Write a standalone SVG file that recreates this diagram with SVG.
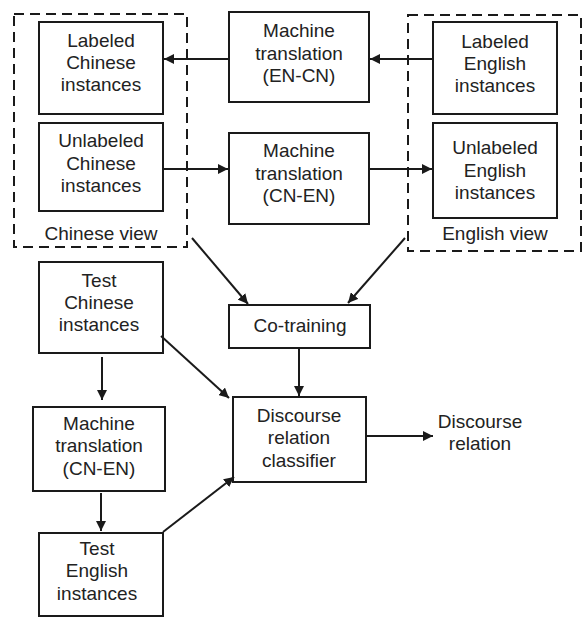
<svg xmlns="http://www.w3.org/2000/svg" width="582" height="617" viewBox="0 0 582 617">
<defs>
<marker id="ah" viewBox="0 0 10 10" refX="10" refY="5" markerWidth="10" markerHeight="10" markerUnits="userSpaceOnUse" orient="auto">
<path d="M0,0 L10,5 L0,10 z" fill="#1a1a1a"/>
</marker>
<style>
.box{fill:#fff;stroke:#1a1a1a;stroke-width:2}
.dash{fill:none;stroke:#1a1a1a;stroke-width:2;stroke-dasharray:10 6}
text{font-family:"Liberation Sans",Arial,sans-serif;font-size:19px;fill:#222;text-anchor:middle}
.c line{stroke:#1a1a1a;stroke-width:2;marker-end:url(#ah)}
</style>
</defs>
<rect width="582" height="617" fill="#fff"/>
<g id="chinese-view">
<rect class="dash" x="14" y="14" width="173" height="233"/>
<text x="101" y="240">Chinese view</text>
</g>
<g id="english-view">
<rect class="dash" x="408" y="15" width="173" height="236"/>
<text x="495" y="240">English view</text>
</g>
<g id="labeled-chinese">
<rect class="box" x="39" y="22" width="124" height="92"/>
<text x="101" y="47">Labeled</text><text x="101" y="69">Chinese</text><text x="101" y="91">instances</text>
</g>
<g id="unlabeled-chinese">
<rect class="box" x="39" y="123" width="124" height="88"/>
<text x="101" y="147">Unlabeled</text><text x="101" y="170">Chinese</text><text x="101" y="192">instances</text>
</g>
<g id="mt-en-cn">
<rect class="box" x="229" y="12" width="140" height="90"/>
<text x="299" y="37">Machine</text><text x="299" y="60">translation</text><text x="299" y="82">(EN-CN)</text>
</g>
<g id="mt-cn-en-top">
<rect class="box" x="229" y="133" width="140" height="91"/>
<text x="299" y="157">Machine</text><text x="299" y="180">translation</text><text x="299" y="202">(CN-EN)</text>
</g>
<g id="labeled-english">
<rect class="box" x="433" y="22" width="124" height="92"/>
<text x="495" y="48">Labeled</text><text x="495" y="70">English</text><text x="495" y="92">instances</text>
</g>
<g id="unlabeled-english">
<rect class="box" x="433" y="123" width="124" height="95"/>
<text x="495" y="154">Unlabeled</text><text x="495" y="177">English</text><text x="495" y="199">instances</text>
</g>
<g id="co-training">
<rect class="box" x="229" y="305" width="141" height="43"/>
<text x="300" y="332">Co-training</text>
</g>
<g id="classifier">
<rect class="box" x="233" y="397" width="133" height="85"/>
<text x="299" y="422">Discourse</text><text x="299" y="444">relation</text><text x="299" y="467">classifier</text>
</g>
<g id="discourse-relation">
<text x="480" y="428">Discourse</text><text x="480" y="450">relation</text>
</g>
<g id="test-chinese">
<rect class="box" x="39" y="262" width="124" height="91"/>
<text x="99" y="287">Test</text><text x="99" y="309">Chinese</text><text x="99" y="331">instances</text>
</g>
<g id="mt-cn-en-bottom">
<rect class="box" x="33" y="407" width="132" height="84"/>
<text x="99" y="430">Machine</text><text x="99" y="452">translation</text><text x="99" y="475">(CN-EN)</text>
</g>
<g id="test-english">
<rect class="box" x="39" y="533" width="124" height="83"/>
<text x="97" y="555">Test</text><text x="97" y="577">English</text><text x="97" y="600">instances</text>
</g>
<g id="connectors" class="c">
<line x1="229" y1="59" x2="164" y2="59"/>
<line x1="433" y1="59" x2="370" y2="59"/>
<line x1="163" y1="169" x2="228" y2="169"/>
<line x1="369" y1="169" x2="432" y2="169"/>
<line x1="192" y1="238" x2="248" y2="304"/>
<line x1="405" y1="238" x2="348" y2="303"/>
<line x1="299" y1="348" x2="299" y2="396"/>
<line x1="366" y1="436" x2="433" y2="436"/>
<line x1="161" y1="336" x2="229" y2="398"/>
<line x1="102" y1="357" x2="102" y2="400"/>
<line x1="101" y1="493" x2="101" y2="531"/>
<line x1="163" y1="532" x2="234" y2="477"/>
</g>
</svg>
